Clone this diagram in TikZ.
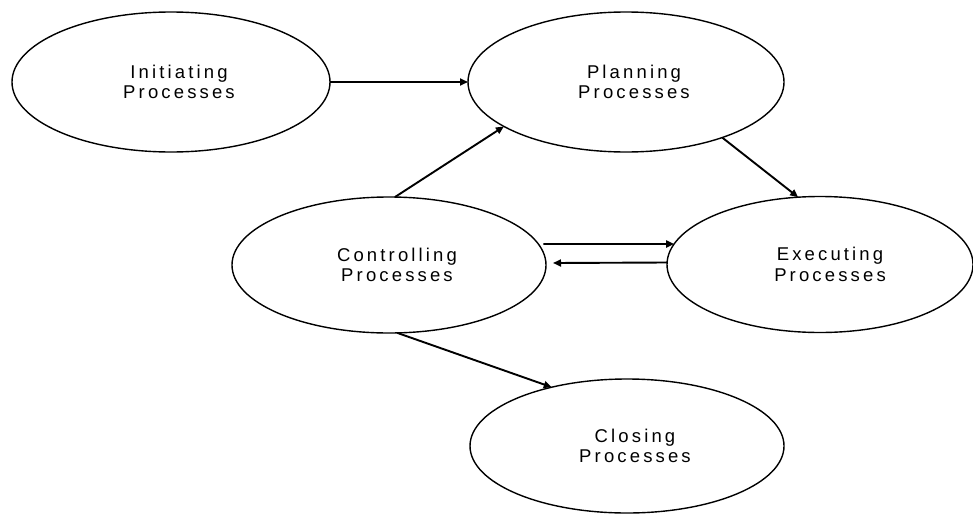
\documentclass[tikz,border=0pt]{standalone}
\usepackage{fontspec}
\setmainfont{Liberation Sans}[LetterSpace=17]
\usetikzlibrary{arrows.meta,shapes.geometric}
\begin{document}
\begin{tikzpicture}[x=1pt,y=-1pt,
  proc/.style={ellipse,draw=black,line width=1.4pt,inner sep=0pt,outer sep=0pt},
  lbl/.style={align=center,inner sep=0pt,font=\fontsize{18.5}{20.5}\selectfont},
  conn/.style={line width=1.9pt,-{Triangle[length=8pt,width=7pt]}}]
\useasboundingbox (0,0) rectangle (973,514);
\node[proc,minimum width=318pt,minimum height=140pt] (init) at (171,82) {};
\node[proc,minimum width=316pt,minimum height=140pt] (plan) at (626,82) {};
\node[proc,minimum width=314pt,minimum height=136pt] (ctrl) at (389,265) {};
\node[proc,minimum width=306pt,minimum height=136pt] (exec) at (820,264.5) {};
\node[proc,minimum width=314pt,minimum height=134pt] (close) at (627,446) {};
\node[lbl] (tinit) at ([xshift=8pt]init.center) {Initiating\\Processes};
\node[lbl] (tplan) at ([xshift=8pt]plan.center) {Planning\\Processes};
\node[lbl] (tctrl) at ([xshift=8pt]ctrl.center) {Controlling\\Processes};
\node[lbl] (texec) at ([xshift=10pt]exec.center) {Executing\\Processes};
\node[lbl] (tclose) at ([xshift=8pt]close.center) {Closing\\Processes};
\draw[conn] (init.east) -- (plan.west);
\draw[conn] (ctrl.85) -- (plan.200);
\draw[conn] (plan.-30) -- (exec.108);
\draw[conn] ([xshift=5pt]ctrl.8) -- (exec.172);
\draw[conn] ([yshift=2pt]exec.west) -- ([xshift=7pt,yshift=2pt]ctrl.east);
\draw[conn] (ctrl.-83) -- (close.142);
\end{tikzpicture}
\end{document}
